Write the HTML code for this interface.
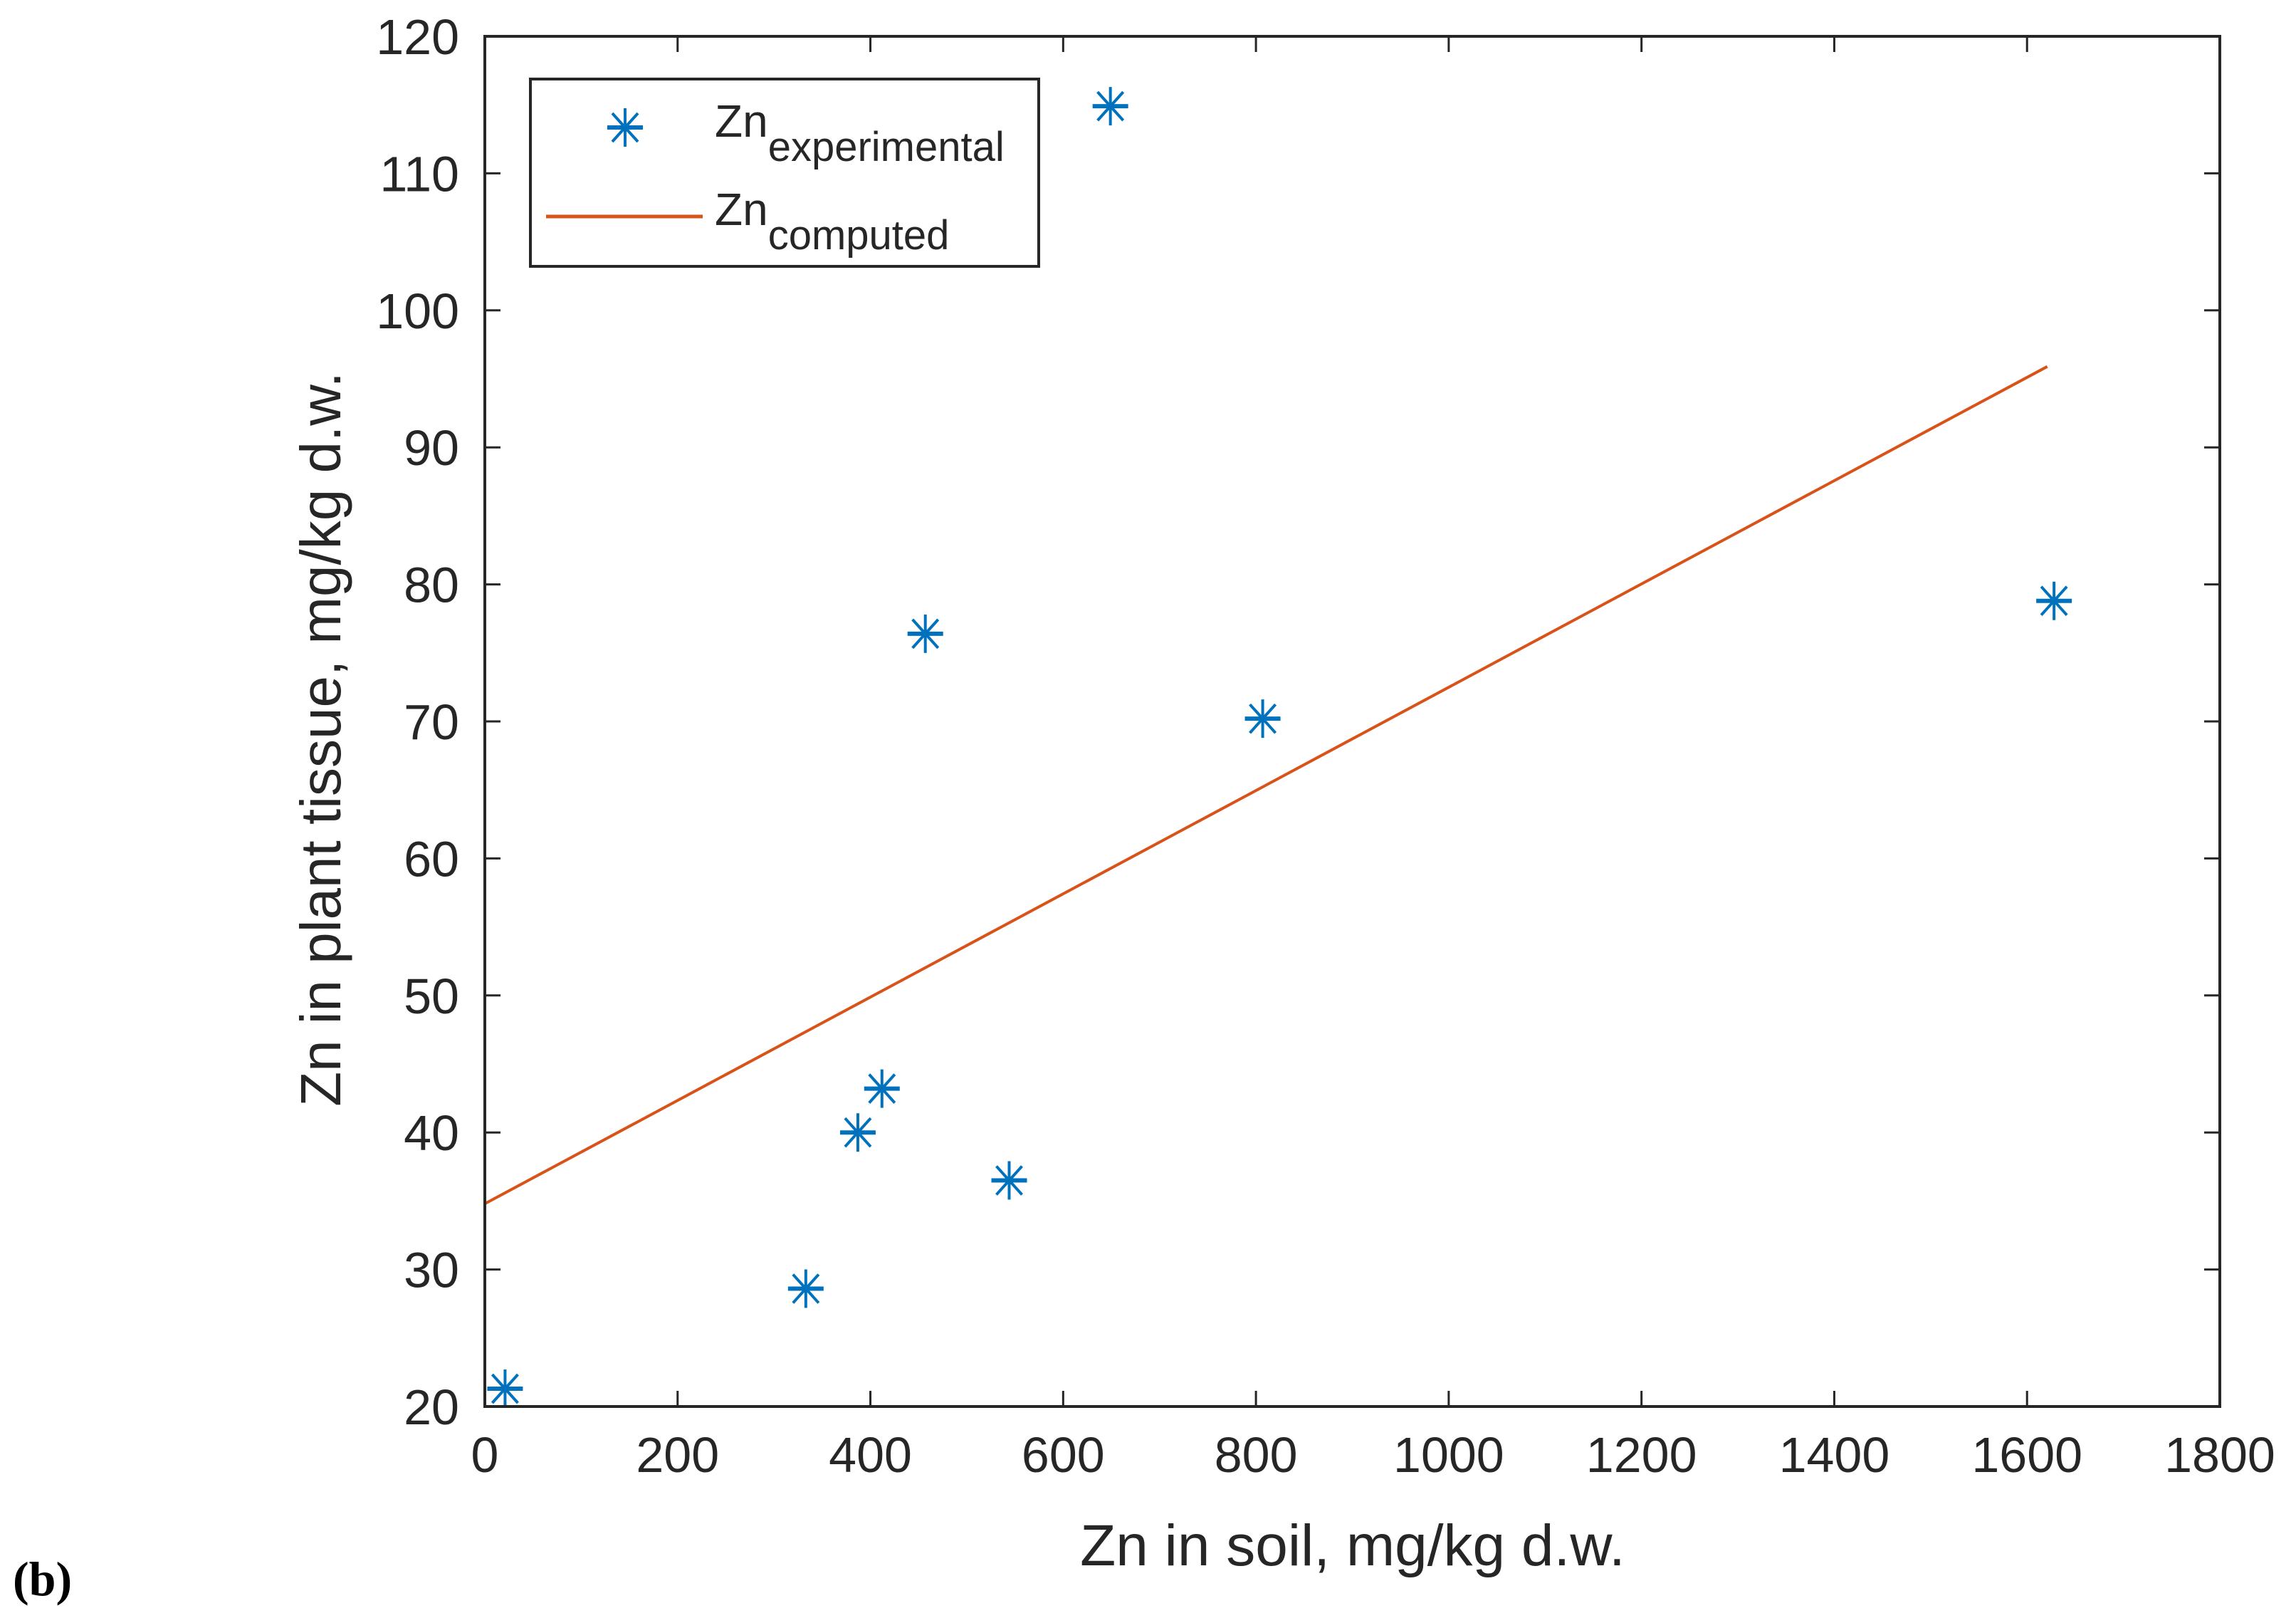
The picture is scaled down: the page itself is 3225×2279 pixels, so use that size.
<!DOCTYPE html>
<html><head><meta charset="utf-8"><style>
html,body{margin:0;padding:0;background:#fff;}
svg{display:block;font-family:"Liberation Sans",Arial,sans-serif;}
</style></head><body>
<svg id="chart" width="3225" height="2279" viewBox="0 0 3225 2279" xmlns="http://www.w3.org/2000/svg">
<g id="grid"></g>
<g id="marks"></g>
<rect x="681" y="51" width="2437" height="1924" fill="none" stroke="#262626" stroke-width="4"/>
<g>
<rect x="745" y="111" width="714" height="263" fill="#fff" stroke="#262626" stroke-width="4"/>
<g transform="translate(878,179)" stroke="#0072BD" stroke-width="4">
<line x1="-25" y1="0" x2="25" y2="0" stroke-width="6"/><line x1="0" y1="-27" x2="0" y2="27"/><line x1="-18" y1="-20" x2="18" y2="20"/><line x1="-18" y1="20" x2="18" y2="-20"/>
</g>
<text x="1004" y="192" font-size="64" fill="#262626">Zn<tspan font-size="58" dy="34">experimental</tspan></text>
<line x1="767" y1="304" x2="987" y2="304" stroke="#D95319" stroke-width="5"/>
<text x="1004" y="316" font-size="64" fill="#262626">Zn<tspan font-size="58" dy="34">computed</tspan></text>
</g>
<text x="1900" y="2198" font-size="82" fill="#262626" text-anchor="middle">Zn in soil, mg/kg d.w.</text>
<text transform="translate(478,1038) rotate(-90)" font-size="80" fill="#262626" text-anchor="middle">Zn in plant tissue, mg/kg d.w.</text>
<text x="18" y="2240" font-size="68" font-weight="bold" font-family="Liberation Serif,serif" fill="#000">(b)</text>
</svg>
<script>
const xTicks = [0,200,400,600,800,1000,1200,1400,1600,1800];
const yTicks = [20,30,40,50,60,70,80,90,100,110,120];
const expX = [21,333,387,412,544,457,649,807,1628];
const expY = [21.3,28.6,40,43.2,36.5,76.4,114.9,70.2,78.8];
const lineX = [0,1621];
const lineY = [34.8,95.9];
const L=681,R=3118,T=51,B=1975;
const sx=v=>L+(v-0)/(1800-0)*(R-L);
const sy=v=>B-(v-20)/(120-20)*(B-T);
const NS="http://www.w3.org/2000/svg";
const grid=document.getElementById('grid'), marks=document.getElementById('marks');
function mk(tag,attrs,parent){const e=document.createElementNS(NS,tag);for(const k in attrs)e.setAttribute(k,attrs[k]);parent.appendChild(e);return e;}
xTicks.forEach(v=>{
  const x=sx(v);
  const t1=mk('line',{x1:x,y1:B,x2:x,y2:B-22,stroke:'#262626','stroke-width':3},grid);
  
  
  const t2=mk('line',{x1:x,y1:T,x2:x,y2:T+22,stroke:'#262626','stroke-width':3},grid);
  
  
  const tx=mk('text',{x:x,y:B+92,'font-size':70,fill:'#262626','text-anchor':'middle'},grid);
  tx.textContent=v;
  
  
});
yTicks.forEach(v=>{
  const y=sy(v);
  const t1=mk('line',{x1:L,y1:y,x2:L+22,y2:y,stroke:'#262626','stroke-width':3},grid);
  
  
  const t2=mk('line',{x1:R,y1:y,x2:R-22,y2:y,stroke:'#262626','stroke-width':3},grid);
  
  
  const tx=mk('text',{x:L-36,y:y+25,'font-size':70,fill:'#262626','text-anchor':'end'},grid);
  tx.textContent=v;
  
  
});
const ln=mk('line',{x1:sx(lineX[0]),y1:sy(lineY[0]),x2:sx(lineX[1]),y2:sy(lineY[1]),stroke:'#D95319','stroke-width':4},marks);


expX.forEach((xv,i)=>{
  const g=mk('g',{transform:`translate(${sx(xv)},${sy(expY[i])})`,stroke:'#0072BD','stroke-width':4},marks);
  
  
  mk('line',{x1:-25,y1:0,x2:25,y2:0,'stroke-width':6},g);
  mk('line',{x1:0,y1:-27,x2:0,y2:27},g);
  mk('line',{x1:-18,y1:-20,x2:18,y2:20},g);
  mk('line',{x1:-18,y1:20,x2:18,y2:-20},g);
});
</script>
</body></html>
